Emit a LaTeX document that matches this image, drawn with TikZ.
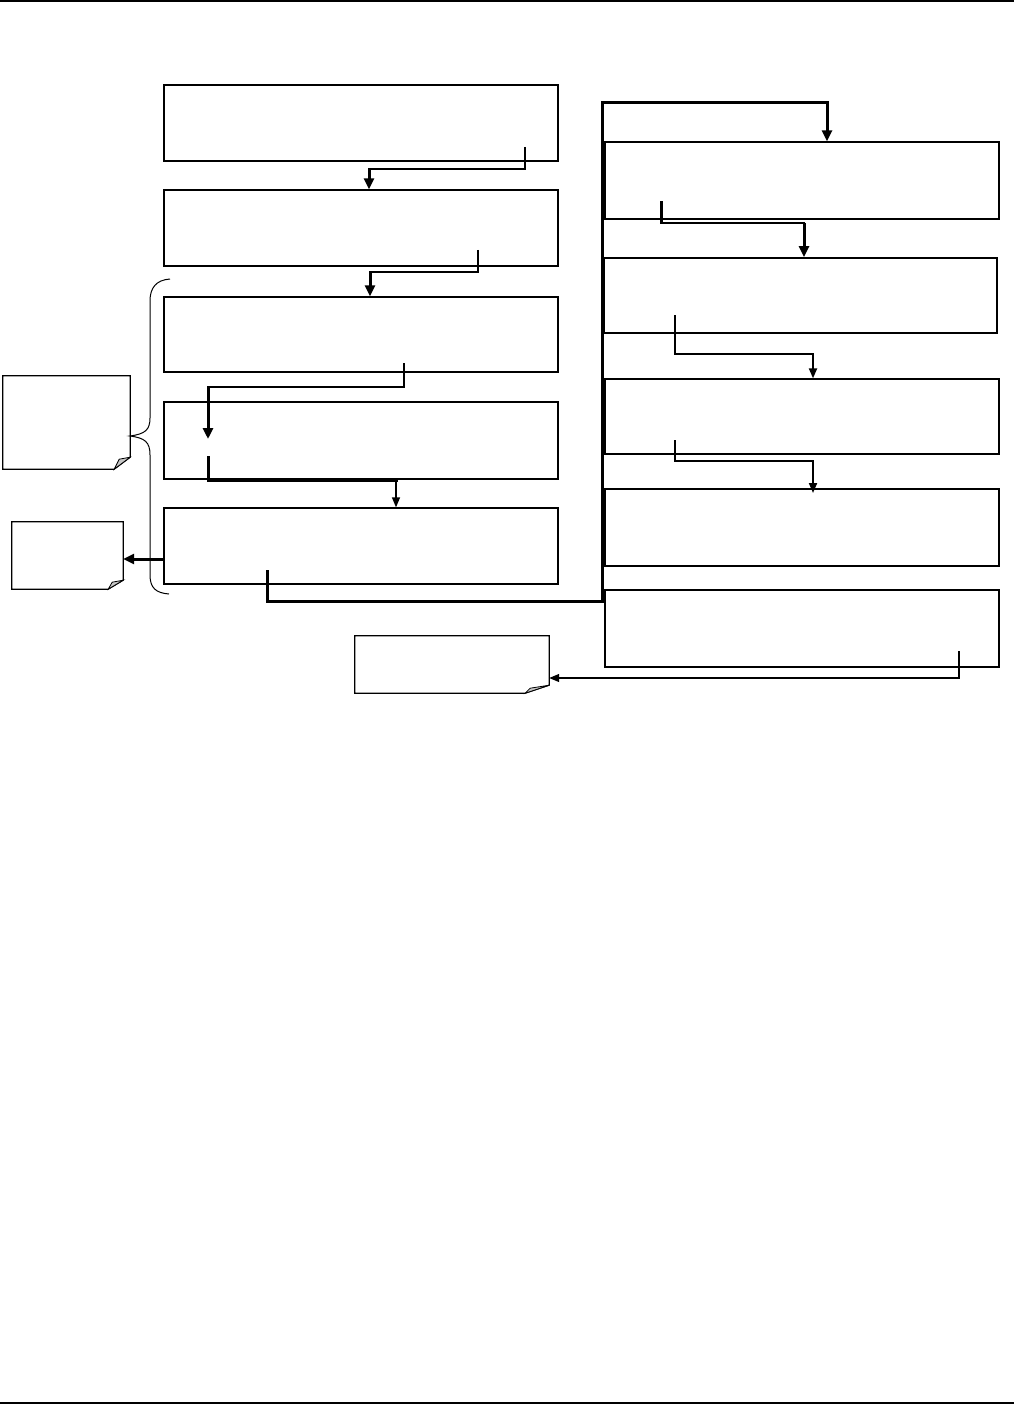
\documentclass[tikz,border=0pt]{standalone}
\usetikzlibrary{arrows.meta,calc}
\begin{document}
\begin{tikzpicture}[x=1pt,y=-1pt,
  box/.style={draw,line width=1.3pt,inner sep=0pt,minimum width=394pt},
  notebox/.style={inner sep=0pt},
  noteline/.style={draw,line width=1.2pt,fill=white,line join=miter},
  fold/.style={draw,line width=0.8pt,fill=gray!45},
  lnA/.style={line width=1.3pt},
  lnB/.style={line width=2pt},
  lnC/.style={line width=3pt},
  tip/.style={-{Triangle[width=10pt,length=11pt]}},
  tipsmall/.style={-{Triangle[width=8pt,length=10pt]}},
  rule/.style={line width=1.5pt}]
\useasboundingbox (0,0) rectangle (1014,1404);
\draw[rule] (0,0.8) -- (1014,0.8);
\draw[rule] (0,1402.8) -- (1014,1402.8);
% left column
\node[box,minimum height=76pt] (b1) at (361,123) {};
\node[box,minimum height=76pt] (b2) at (361,228) {};
\node[box,minimum height=75pt] (b3) at (361,334.5) {};
\node[box,minimum height=77pt] (b4) at (361,440.5) {};
\node[box,minimum height=76pt] (b5) at (361,546) {};
% right column
\node[box,minimum height=77pt] (b6) at (802,180.5) {};
\node[box,minimum height=75pt,minimum width=393pt,line width=1.8pt] (b7) at (800.5,295.5) {};
\node[box,minimum height=75pt] (b8) at (802,416.5) {};
\node[box,minimum height=77pt] (b9) at (802,527.5) {};
\node[box,minimum height=77pt] (b10) at (802,628.5) {};
% notes
\node[notebox,minimum width=127pt,minimum height=93pt] (nA) at (66.5,422.5) {};
\node[notebox,minimum width=111pt,minimum height=67pt] (nB) at (67.5,555.5) {};
\node[notebox,minimum width=194pt,minimum height=57pt] (nC) at (452,664.5) {};
\draw[noteline] (nA.north west) -- (nA.north east) -- ($(nA.south east)+(0,-12)$) -- ($(nA.south east)+(-16,0)$) -- (nA.south west) -- cycle;
\draw[fold] ($(nA.south east)+(0,-12)$) -- ($(nA.south east)+(-16,0)$) -- ($(nA.south east)+(-11,-10)$) -- cycle;
\draw[noteline] (nB.north west) -- (nB.north east) -- ($(nB.south east)+(0,-9)$) -- ($(nB.south east)+(-15,0)$) -- (nB.south west) -- cycle;
\draw[fold] ($(nB.south east)+(0,-9)$) -- ($(nB.south east)+(-15,0)$) -- ($(nB.south east)+(-11,-7)$) -- cycle;
\draw[noteline] (nC.north west) -- (nC.north east) -- ($(nC.south east)+(0,-8)$) -- ($(nC.south east)+(-24,0)$) -- (nC.south west) -- cycle;
\draw[fold] ($(nC.south east)+(0,-8)$) -- ($(nC.south east)+(-24,0)$) -- ($(nC.south east)+(-19,-5)$) -- cycle;
% brace
\coordinate (brTop) at (170,279);
\coordinate (brTip) at (130,436);
\coordinate (brBot) at (169,594);
\draw[line width=1pt] (brTop) .. controls (156,280) and (150,288) .. (150,301) -- (150,418)
  .. controls (150,430) and (145,434) .. (brTip)
  .. controls (145,438) and (150,442) .. (150,455) -- (150,575)
  .. controls (150,588) and (156,593) .. (brBot);
% connector b1 -> b2
\coordinate (s1) at (525,147);
\draw[lnA] (s1) -- (525,169);
\draw[lnB,line cap=rect] (525,169) -- (369,169);
\draw[lnC,tip] (369,169) -- (369,0 |- b2.north);
% b2 -> b3
\coordinate (s2) at (478,250);
\draw[lnA] (s2) -- (478,272);
\draw[lnB,line cap=rect] (478,272) -- (370,272);
\draw[lnC,tip] (370,272) -- (370,0 |- b3.north);
% b3 -> b4 (arrow ends inside b4)
\coordinate (s3) at (404,363);
\coordinate (e3) at (208,439);
\draw[lnA] (s3) -- (404,387);
\draw[lnB,line cap=rect] (404,387) -- (208,387);
\draw[lnC,tip] (208,387) -- (e3);
% b4 -> b5
\coordinate (s4) at (208,457);
\draw[lnC,line cap=rect] (s4) -- (208,480) -- (396,480);
\draw[lnA,tipsmall] (396,480) -- (396,0 |- b5.north);
% b5 -> b6
\coordinate (s5) at (267,571);
\draw[lnC,line cap=rect] (s5) -- (267,601) -- (602,601) -- (602,103) -- (827,103);
\draw[lnC,tip] (827,103) -- (827,0 |- b6.north);
% b6 -> b7
\coordinate (s6) at (661,203);
\draw[lnC,line cap=rect] (s6) -- (661,223);
\draw[lnB,line cap=rect] (661,223) -- (804,223);
\draw[lnC,tip] (804,223) -- (804,0 |- b7.north);
% b7 -> b8
\coordinate (s7) at (675,315);
\draw[lnB,tipsmall] (s7) -- (675,354) -- (813,354) -- (813,0 |- b8.north);
% b8 -> b9
\coordinate (s8) at (675,440);
\draw[lnB,tipsmall] (s8) -- (675,461) -- (813,461) -- (813,493);
% b10 -> nC
\coordinate (s9) at (959,651);
\draw[lnA,tipsmall] (s9) -- (959,678) -- (nC.east |- 0,678);
% b5 -> nB
\draw[lnC,tip] (b5.west |- 0,559) -- (nB.east |- 0,559);
\end{tikzpicture}
\end{document}
